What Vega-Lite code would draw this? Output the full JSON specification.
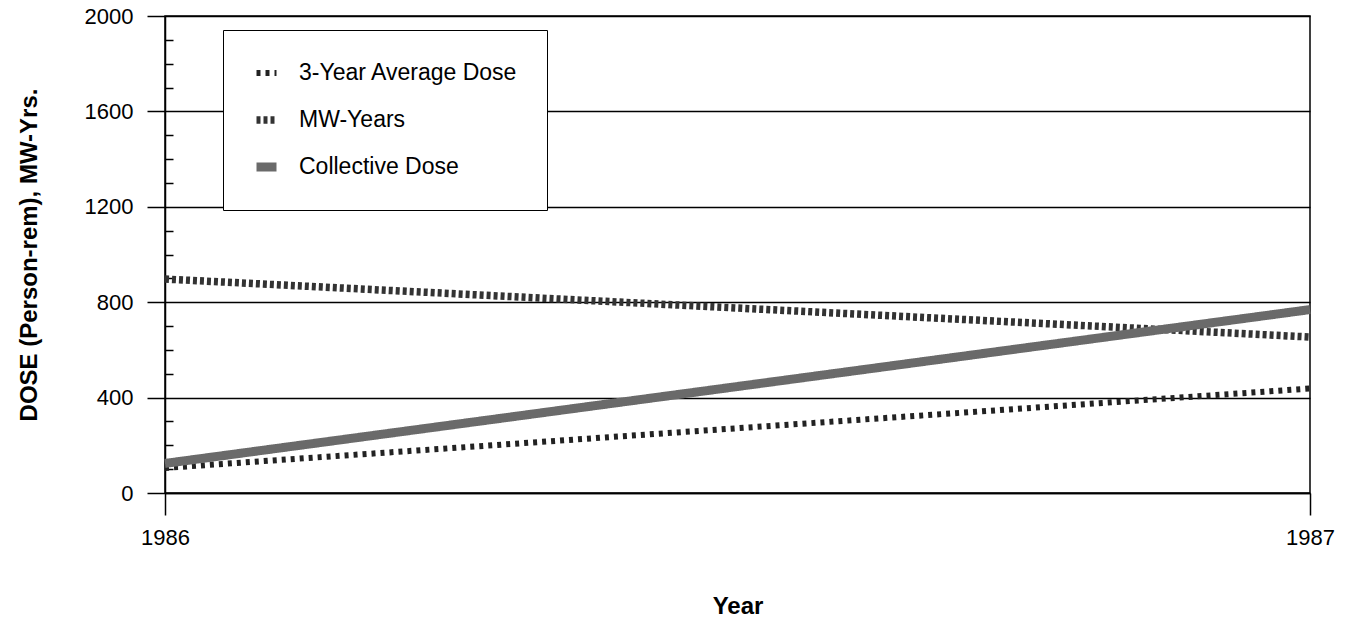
{
  "$schema": "https://vega.github.io/schema/vega-lite/v6.json",
  "width": 1145,
  "height": 477,
  "autosize": {"type": "none"},
  "padding": {"left": 165, "top": 16, "right": 44, "bottom": 130},
  "background": "white",
  "config": {
    "font": "Liberation Sans",
    "view": {"stroke": "black", "strokeWidth": 1.5},
    "axis": {"labelColor": "black", "titleColor": "black", "tickColor": "black", "domainColor": "black"}
  },
  "data": {
    "values": [
      {"year": 1986, "series": "3-Year Average Dose", "value": 105},
      {"year": 1987, "series": "3-Year Average Dose", "value": 438},
      {"year": 1986, "series": "MW-Years", "value": 897},
      {"year": 1987, "series": "MW-Years", "value": 654},
      {"year": 1986, "series": "Collective Dose", "value": 124},
      {"year": 1987, "series": "Collective Dose", "value": 769}
    ]
  },
  "resolve": {"axis": {"y": "independent", "x": "independent"}},
  "layer": [
    {
      "mark": {"type": "line", "strokeOpacity": 0},
      "encoding": {
        "x": {"field": "year", "type": "quantitative", "scale": {"domain": [1986, 1987], "nice": false, "zero": false}, "axis": null},
        "y": {
          "field": "value", "type": "quantitative",
          "scale": {"domain": [0, 2000], "nice": false},
          "axis": {"orient": "left", "values": [100, 200, 300, 500, 600, 700, 900, 1000, 1100, 1300, 1400, 1500, 1700, 1800, 1900], "tickSize": -8, "labels": false, "domain": false, "grid": false, "title": null, "tickWidth": 1.5}
        },
        "detail": {"field": "series"}
      }
    },
    {
      "mark": {"type": "line"},
      "encoding": {
        "x": {
          "field": "year", "type": "quantitative",
          "scale": {"domain": [1986, 1987], "nice": false, "zero": false},
          "axis": {"values": [1986, 1987], "format": "d", "labelFlush": false, "tickSize": 22, "tickWidth": 1.5, "domainWidth": 1.5, "labelFontSize": 22, "labelPadding": 12, "grid": false, "title": "Year", "titleFontSize": 24, "titleFontWeight": "bold", "titlePadding": 46}
        },
        "y": {
          "field": "value", "type": "quantitative",
          "scale": {"domain": [0, 2000], "nice": false},
          "axis": {"orient": "left", "values": [0, 400, 800, 1200, 1600, 2000], "format": "d", "tickSize": 18, "tickWidth": 1.5, "domainWidth": 1.5, "labelFontSize": 22, "labelPadding": 14, "grid": true, "gridColor": "black", "gridWidth": 1.5, "gridOpacity": 1, "title": "DOSE (Person-rem), MW-Yrs.", "titleFontSize": 24, "titleFontWeight": "bold", "titlePadding": 43}
        },
        "color": {
          "field": "series", "type": "nominal",
          "scale": {"domain": ["3-Year Average Dose", "MW-Years", "Collective Dose"], "range": ["#222222", "#333333", "#6a6a6a"]},
          "legend": {
            "title": null, "orient": "none", "legendX": 58, "legendY": 14,
            "strokeColor": "black", "fillColor": "white", "padding": 29,
            "labelFontSize": 23, "labelColor": "black", "labelLimit": 500, "rowPadding": 19, "labelOffset": 18,
            "clipHeight": 28,
            "symbolType": "stroke", "symbolSize": 400
          }
        },
        "strokeDash": {
          "field": "series", "type": "nominal",
          "scale": {"domain": ["3-Year Average Dose", "MW-Years", "Collective Dose"], "range": [[4, 5], [4, 3], [1, 0]]},
          "legend": null
        },
        "strokeWidth": {
          "field": "series", "type": "nominal",
          "scale": {"domain": ["3-Year Average Dose", "MW-Years", "Collective Dose"], "range": [6, 9, 9]},
          "legend": null
        }
      }
    }
  ]
}
